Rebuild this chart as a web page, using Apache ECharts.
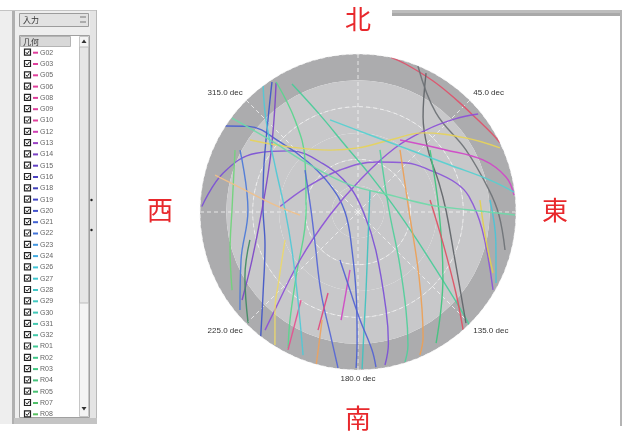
<!DOCTYPE html>
<html>
<head>
<meta charset="utf-8">
<script src="https://cdn.jsdelivr.net/npm/echarts@6/dist/echarts.min.js"></script>
<style>
  html, body { margin: 0; padding: 0; background: #ffffff; }
  #chart { width: 626px; height: 431px; }
</style>
</head>
<body>
<div id="chart"></div>
<script>
// Satellite list shown in the side panel
const satIds = ['G02','G03','G05','G06','G08','G09','G10','G12','G13','G14','G15','G16','G18','G19','G20','G21','G22','G23','G24','G26','G27','G28','G29','G30','G31','G32','R01','R02','R03','R04','R05','R07','R08'];
const satColors = ['#e0409c','#e0409c','#e0409c','#e0409c','#e0409c','#e0409c','#e0409c','#d040b4','#9a42c4','#7a42c4','#6242c4','#4c42c2','#4242bc','#4246c6','#4252cc','#4262d2','#4274d8','#4296e0','#42aae0','#42c6d8','#42c8d0','#42c8c8','#42c8c0','#42c8b8','#42c8b0','#42c8a8','#42c894','#42c88a','#42c882','#44c27a','#48c072','#50c06a','#58c062'];

// Bearing labels drawn on the sky plot, and compass characters
const shownBearings = [0, 45, 135, 180, 225, 315];
const compassLabels = ['北', '東', '南', '西'];
const panelTitle = '入力';
const listHeader = '几何';

// Satellite tracks: [elevation (deg), azimuth (deg)]
const track01 = [[1,272],[10,286],[23,300],[38,312],[56,324],[75,342],[86,113],[66,155],[32,164],[13,167],[1.5,170]];
const track02 = [[45.5,274],[57.6,296],[64,337],[59.5,21],[50.5,45],[42.5,60],[31.8,73.5],[26.2,82],[18.6,98],[1.2,120]];
const track03 = [[0,303],[10.8,308],[31,312],[49.7,315],[67.8,314],[82.6,270],[68.1,189],[39.9,181],[17.1,180.4],[1.1,180.7]];
const track04 = [[1.2,326.5],[16.7,315.6],[30.1,296.6],[35.7,274.2],[33.8,250.5],[18.9,229.5],[0,218]];
const track05 = [[2.9,327.6],[19,317.6],[31.8,300.6],[35.3,271.2],[23.7,245.6],[7.1,232.8]];
const track06 = [[2.5,327.8],[26.5,325.6],[47.7,314.5],[60.4,272.2],[38.8,223.6],[17.3,212.2],[2.9,207.2]];
const track07 = [[8,332.7],[30.6,338.6],[51.1,349],[67.8,18],[66,94],[40.7,123.7],[15.4,132.2],[0,135.3]];
const track08 = [[0,12],[1.5,18],[4,30],[5,42],[4,52],[1.5,60],[0,64]];
const track09 = [[1.9,26.1],[24.4,34.4],[36.7,48.5],[41,70.3],[39.9,88.7],[28.4,116.3],[1.8,135.8]];
const track10 = [[0.1,22.3],[18.2,38.2],[19.1,60.1],[14.3,80.5],[9.7,91.2],[3.5,104.5]];
const track11 = [[4.4,218.2],[10.7,219.2],[47.1,230.4],[73.9,263.9],[71.7,3.6],[47.9,30],[29.3,39.7],[13.4,46.2],[1.7,50.8]];
const track12 = [[42.5,30.3],[28.7,54.8],[12.9,67.4],[3.4,76.7],[0.6,83.8]];
const track13 = [[16.1,303.7],[36.4,313.7],[51.3,335.7],[53.5,0],[45.1,24],[31.7,39.4],[15.4,55.6],[1.3,65.7]];
const track14 = [[45.5,249],[30.6,229.3],[16.9,220.3],[0.7,212]];
const track15 = [[47.3,34.1],[61,87.8],[39.2,136.8],[9.7,152.5],[1.2,156.6]];
const track16 = [[52.5,19.5],[72.3,86.3],[54.1,139.5],[27.9,153.9],[9.1,159.4],[0.5,162.6]];
const track17 = [[35.9,49.3],[43.9,88.6],[29.1,127.4],[3.1,149.2]];
const track18 = [[48.4,80.5],[38.5,110],[17.6,129.6],[0,138.3]];
const track19 = [[20.2,84.4],[15.4,102.3],[5.6,114.3]];
const track20 = [[14.5,84.8],[9.5,102.7],[1.6,117.2]];
const track21 = [[51.5,308.4],[63.2,272.4],[59.8,234.2],[39.3,204.5],[17.1,192.2],[0.4,187.3]];
const track22 = [[14.1,297.7],[27.3,271],[18,247.7],[2.6,230.3]];
const track23 = [[26.4,255.5],[15.7,240.1],[1,224.7]];
const track24 = [[30.3,212.9],[1.9,206.9]];
const track25 = [[40.8,200.3],[19,198.7]];
const track26 = [[56.7,187.9],[27.7,188.9]];
const track27 = [[25.2,198.4],[0,195.3]];
const track28 = [[75.7,28.6],[73.1,160.3],[45.3,174.1],[22.7,177.1],[0.6,178.5]];
const track29 = [[11.6,296.7],[18.2,270.9],[14,253.5],[5.6,238.2]];
const track30 = [[0,323.1],[15.9,315],[37.5,297.1],[48.4,271.6],[46.6,240.1],[29.3,214.3],[2.7,201]];
const track31 = [[60.8,200.6],[45.3,185.9],[28.5,178.9],[11,174.2],[1.1,173.4]];
const track32 = [[0.5,306.7],[25.2,309.3],[51.7,314.4],[73.9,343.5],[69.4,62],[48.8,84.4],[26.2,89],[0.6,91.1]];
const track33 = [[35.2,343.1],[45.6,8.9],[43.9,40],[31.2,62.9],[12.6,76.4],[0.4,82.7]];
const track34 = [[5.9,284.5],[24.4,281],[42.6,274.8],[56.9,267]];

const tracks = [track01,track02,track03,track04,track05,track06,track07,track08,track09,track10,
  track11,track12,track13,track14,track15,track16,track17,track18,track19,track20,
  track21,track22,track23,track24,track25,track26,track27,track28,track29,track30,
  track31,track32,track33,track34];
const trackColors = ['#7b4fd6','#8a55d8','#4a5fd0','#3f55c8','#7d45c8','#58d68d','#48cc98','#e0506a','#5f6468','#6e7276',
  '#8c4fd8','#d045c8','#e6d35a','#ecd86a','#eda055','#4fcf9a','#3fc47e','#e04f62','#e2d04c','#48c4d8',
  '#5566d6','#4b78d8','#3f8a62','#e5508f','#e0457e','#cf47c4','#eda25e','#3fc2bf','#6fd47a','#4fc9d6',
  '#5262d2','#6ed9a8','#55d0d0','#f0c08a'];

const chart = echarts.init(document.getElementById('chart'), null, { renderer: 'canvas' });

const center = [358, 212];
const plotRadius = 158;

// Side panel: frame, header, list rows
const panel = [];
const Z = 50;
panel.push({ type: 'rect', z: Z, shape: { x: 0, y: 10, width: 97, height: 414 }, style: { fill: '#eeeeee' } });
panel.push({ type: 'rect', z: Z, shape: { x: 12, y: 10, width: 3, height: 414 }, style: { fill: '#b0b0b0' } });
panel.push({ type: 'rect', z: Z, shape: { x: 19.5, y: 13.5, width: 69, height: 13 }, style: { fill: '#e2e2e2', stroke: '#9c9c9c', lineWidth: 1 } });
panel.push({ type: 'text', z: Z + 1, x: 23, y: 20, style: { text: panelTitle, fill: '#333', font: '8px "Noto Sans CJK JP"', verticalAlign: 'middle', textVerticalAlign: 'middle' } });
panel.push({ type: 'line', z: Z + 1, shape: { x1: 80, y1: 17, x2: 86, y2: 17 }, style: { stroke: '#777', lineWidth: 1 } });
panel.push({ type: 'line', z: Z + 1, shape: { x1: 80, y1: 22, x2: 86, y2: 22 }, style: { stroke: '#777', lineWidth: 1 } });
panel.push({ type: 'rect', z: Z, shape: { x: 19.5, y: 35.5, width: 70, height: 382 }, style: { fill: '#ffffff', stroke: '#a0a0a0', lineWidth: 1 } });
panel.push({ type: 'rect', z: Z + 1, shape: { x: 20.5, y: 36.5, width: 50, height: 10 }, style: { fill: '#d8d8d8', stroke: '#b4b4b4', lineWidth: 1 } });
panel.push({ type: 'text', z: Z + 2, x: 23, y: 41.5, style: { text: listHeader, fill: '#333', font: '8px "Noto Sans CJK SC"', verticalAlign: 'middle', textVerticalAlign: 'middle' } });
panel.push({ type: 'rect', z: Z + 1, shape: { x: 79.5, y: 36.5, width: 9, height: 380 }, style: { fill: '#f4f4f4', stroke: '#c6c6c6', lineWidth: 1 } });
panel.push({ type: 'rect', z: Z + 2, shape: { x: 79.5, y: 47, width: 9, height: 256 }, style: { fill: '#e6e6e6', stroke: '#bcbcbc', lineWidth: 1 } });
panel.push({ type: 'polygon', z: Z + 3, shape: { points: [[81.5, 43], [86.5, 43], [84, 39.5]] }, style: { fill: '#333' } });
panel.push({ type: 'polygon', z: Z + 3, shape: { points: [[81.5, 407], [86.5, 407], [84, 410.5]] }, style: { fill: '#333' } });
panel.push({ type: 'rect', z: Z, shape: { x: 90, y: 10, width: 6, height: 414 }, style: { fill: '#e4e4e4' } });
panel.push({ type: 'line', z: Z + 1, shape: { x1: 96.5, y1: 10, x2: 96.5, y2: 424 }, style: { stroke: '#b8b8b8', lineWidth: 1 } });
panel.push({ type: 'circle', z: Z + 1, shape: { cx: 91.5, cy: 200, r: 1.2 }, style: { fill: '#222' } });
panel.push({ type: 'circle', z: Z + 1, shape: { cx: 91.5, cy: 230, r: 1.2 }, style: { fill: '#222' } });
panel.push({ type: 'rect', z: Z + 1, shape: { x: 14, y: 418, width: 83, height: 6 }, style: { fill: '#c4c4c4' } });
panel.push({ type: 'line', z: Z, shape: { x1: 0, y1: 10.5, x2: 97, y2: 10.5 }, style: { stroke: '#c4c4c4', lineWidth: 1 } });

satIds.forEach((id, i) => {
  const y = 52.7 + i * 11.3;
  panel.push({ type: 'rect', z: Z + 2, shape: { x: 24.5, y: y - 3.5, width: 6, height: 6 }, style: { fill: '#ffffff', stroke: '#222', lineWidth: 1.2 } });
  panel.push({ type: 'polyline', z: Z + 3, shape: { points: [[25.8, y - 0.5], [27.2, y + 1.2], [29.4, y - 2]] }, style: { stroke: '#222', lineWidth: 1, fill: null } });
  panel.push({ type: 'line', z: Z + 2, shape: { x1: 33, y1: y, x2: 38, y2: y }, style: { stroke: satColors[i], lineWidth: 2 } });
  panel.push({ type: 'text', z: Z + 2, x: 40, y: y, style: { text: id, fill: '#666', font: '7px "Liberation Sans"', verticalAlign: 'middle', textVerticalAlign: 'middle' } });
});

// Plot window frame (top bar and right edge)
const frame = [
  { type: 'rect', z: Z, shape: { x: 392, y: 10, width: 230, height: 3 }, style: { fill: '#bdbdbd' } },
  { type: 'rect', z: Z, shape: { x: 392, y: 13, width: 230, height: 3 }, style: { fill: '#a9a9a9' } },
  { type: 'rect', z: Z, shape: { x: 620, y: 10, width: 2, height: 416 }, style: { fill: '#b4b4b4' } }
];

// Compass characters on white patches
const compassPos = [[358, 19], [555, 210], [358, 418], [160, 210]];
const compass = [
  { type: 'rect', z: Z, shape: { x: 330, y: 0, width: 62, height: 47 }, style: { fill: '#ffffff' } },
  { type: 'rect', z: Z, shape: { x: 330, y: 392, width: 62, height: 39 }, style: { fill: '#ffffff' } }
];
compassLabels.forEach((ch, i) => {
  compass.push({ type: 'text', z: Z + 5, x: compassPos[i][0], y: compassPos[i][1],
    style: { text: ch, fill: '#e8282c', font: '26px "Noto Sans CJK JP"', align: 'center', verticalAlign: 'middle', textAlign: 'center', textVerticalAlign: 'middle' } });
});

const hiddenAxis = { axisLine: { show: false }, axisTick: { show: false }, axisLabel: { show: false } };

const option = {
  animation: false,
  backgroundColor: '#ffffff',
  polar: [
    { center: center, radius: plotRadius },
    { center: center, radius: plotRadius }
  ],
  angleAxis: [
    Object.assign({ polarIndex: 0, type: 'value', min: 0, max: 360, interval: 45, startAngle: 90, clockwise: true, splitLine: { show: false } }, hiddenAxis),
    {
      polarIndex: 1, type: 'value', min: 0, max: 360, interval: 45, startAngle: 90, clockwise: true,
      axisLine: { show: false }, axisTick: { show: false },
      axisLabel: {
        margin: 5, fontSize: 8, color: '#333', fontFamily: 'Liberation Sans',
        formatter: v => shownBearings.includes(v) ? v.toFixed(1) + ' dec' : ''
      },
      splitLine: { show: true, lineStyle: { color: 'rgba(245,245,245,0.8)', type: [4, 3], width: 1 } }
    }
  ],
  radiusAxis: [
    Object.assign({
      polarIndex: 0, type: 'value', min: 0, max: 90, interval: 15, inverse: true,
      splitLine: { show: false },
      splitArea: { show: true, areaStyle: { color: ['#acacae', '#c8c8ca', '#c8c8ca', '#c8c8ca', '#c8c8ca', '#c8c8ca'] } }
    }, hiddenAxis),
    Object.assign({
      polarIndex: 1, type: 'value', min: 0, max: 90, interval: 30, inverse: true,
      splitLine: { show: true, showMinLine: false, showMaxLine: false, lineStyle: { color: 'rgba(245,245,245,0.8)', type: [4, 3], width: 1 } }
    }, hiddenAxis)
  ],
  graphic: { elements: panel.concat(frame, compass) },
  series: tracks.map((d, i) => ({
    type: 'line',
    coordinateSystem: 'polar',
    polarIndex: 1,
    data: d,
    showSymbol: false,
    smooth: 0.4,
    silent: true,
    lineStyle: { width: 1.4, color: trackColors[i], opacity: 0.92 }
  }))
};

chart.setOption(option);
</script>
</body>
</html>
